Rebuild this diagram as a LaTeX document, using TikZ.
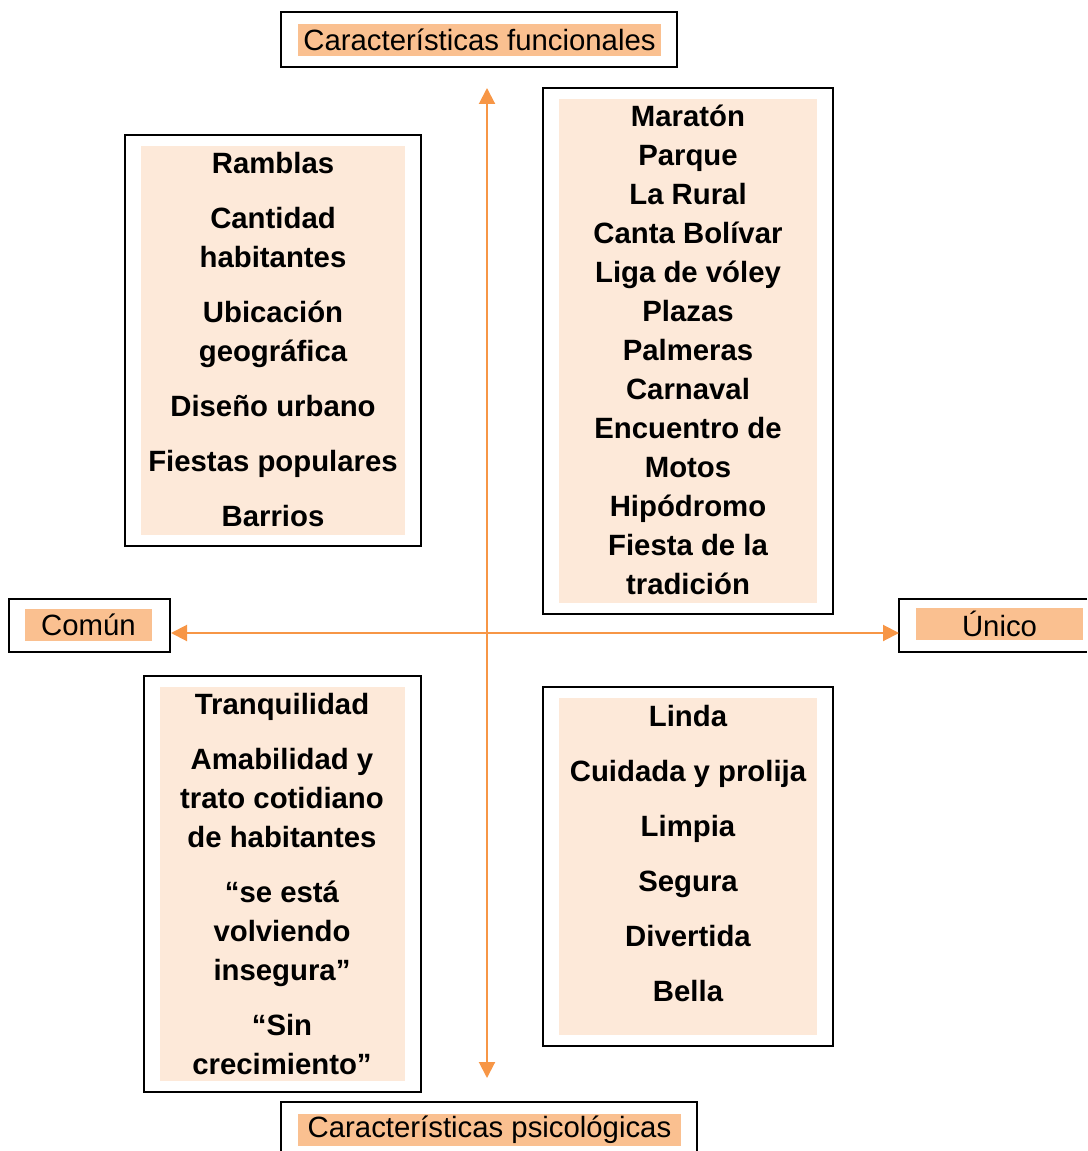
\documentclass[tikz,border=0pt]{standalone}
\usepackage{fontspec}
\setmainfont{Liberation Sans}
\usetikzlibrary{arrows.meta}
\definecolor{ejeNaranja}{RGB}{247,150,70}
\definecolor{rotuloFondo}{RGB}{250,192,144}
\definecolor{cuadroFondo}{RGB}{253,233,217}
\tikzset{
  rotulo/.style={fill=rotuloFondo, inner sep=0pt, minimum height=24pt, font=\fontsize{22}{26}\selectfont},
  lista/.style={align=center, inner sep=0pt, font=\bfseries\fontsize{22}{29.25}\selectfont},
  marco/.style={line width=1pt},
  eje/.style={color=ejeNaranja, line width=1.5pt, {Triangle[length=12pt,width=12pt]}-{Triangle[length=12pt,width=12pt]}},
}

\begin{document}
\begin{tikzpicture}[x=0.75pt,y=0.75pt,yscale=-1,xscale=1]
	\useasboundingbox (0,0) rectangle (1087,1151);

	%Shape: Rectangle (label frames)
	\draw[marco] (281,12) rectangle (677,67);
	\draw[marco] (9,599) rectangle (170,652);
	\draw[marco] (1087,599) -- (899,599) -- (899,652) -- (1087,652);
	\draw[marco] (281,1151) -- (281,1102) -- (697,1102) -- (697,1151);

	%Shape: Rectangle (quadrant frames)
	\draw[marco] (125,135) rectangle (421,546);
	\fill[cuadroFondo] (141,146) rectangle (405,535);
	\draw[marco] (543,88) rectangle (833,614);
	\fill[cuadroFondo] (559,99) rectangle (817,603);
	\draw[marco] (144,676) rectangle (421,1092);
	\fill[cuadroFondo] (160,687) rectangle (405,1081);
	\draw[marco] (543,687) rectangle (833,1046);
	\fill[cuadroFondo] (559,698) rectangle (817,1035);

	% Text Node
	\node[rotulo, minimum width=272pt] (funcionales) at (479.5,40) {Características funcionales};
	\node[rotulo, minimum width=95.25pt] (comun) at (88.5,625) {Común};
	\node[rotulo, minimum width=125.25pt] (unico) at (999.5,624) {Único};
	\node[rotulo, minimum width=287.25pt] (psicologicas) at (489.5,1130) {Características psicológicas};

	% Text Node
	\node[lista] (funcComun) at (273,340) {Ramblas\\[12pt] Cantidad\\ habitantes\\[12pt] Ubicación\\ geográfica\\[12pt] Diseño urbano\\[12pt] Fiestas populares\\[12pt] Barrios};
	\node[lista] (funcUnico) at (688,349.5) {Maratón\\ Parque\\ La Rural\\ Canta Bolívar\\ Liga de vóley\\ Plazas\\ Palmeras\\ Carnaval\\ Encuentro de\\ Motos\\ Hipódromo\\ Fiesta de la\\ tradición};
	\node[lista] (psicComun) at (282,884.5) {Tranquilidad\\[12pt] Amabilidad y\\ trato cotidiano\\ de habitantes\\[12pt] “se está\\ volviendo\\ insegura”\\[12pt] “Sin\\ crecimiento”};
	\node[lista] (psicUnico) at (688,854) {Linda\\[12pt] Cuidada y prolija\\[12pt] Limpia\\[12pt] Segura\\[12pt] Divertida\\[12pt] Bella};

	%Straight Lines (axes)
	\coordinate (ejeArriba) at (487,88);
	\coordinate (ejeAbajo) at (487,1078);
	\coordinate (ejeIzq) at (171,633);
	\coordinate (ejeDer) at (899,633);
	\draw[eje] (ejeArriba) -- (ejeAbajo);
	\draw[eje] (ejeIzq) -- (ejeDer);

\end{tikzpicture}
\end{document}
